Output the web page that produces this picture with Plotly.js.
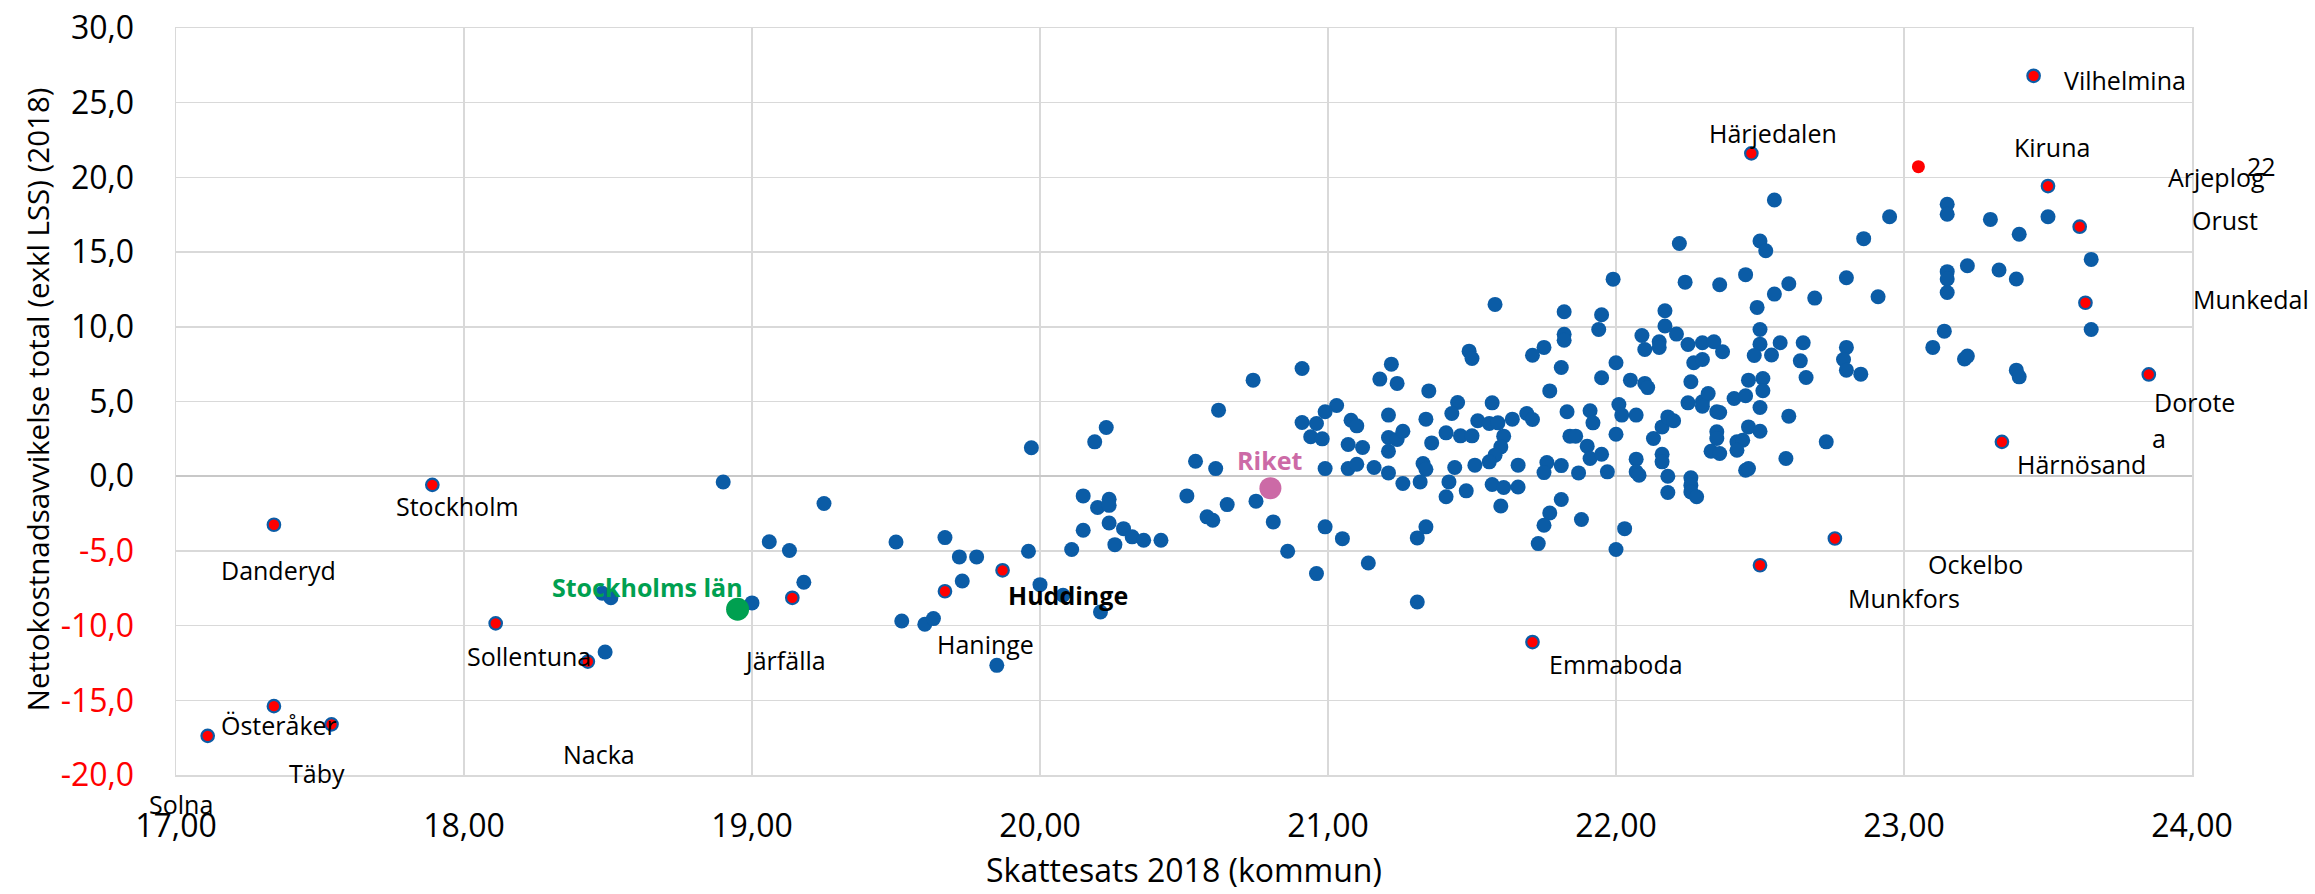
<!DOCTYPE html>
<html>
<head>
<meta charset="utf-8">
<script src="https://cdn.plot.ly/plotly-3.0.1.min.js"></script>
<style>
  html, body { margin: 0; padding: 0; background: #fff; }
  #plot { width: 2315px; height: 894px; }
</style>
</head>
<body>
<div id="plot"></div>
<script>
// Skattesats 2018 (x) vs nettokostnadsavvikelse (y) per kommun
const kommuner = [
  [18.49,-11.77],[18.48,-7.83],[18.51,-8.14],[18.90,-0.39],[19.00,-8.48],[19.06,-4.39],[19.13,-4.97],
  [19.18,-7.10],[19.25,-1.83],[19.50,-4.40],[19.52,-9.69],[19.60,-9.91],[19.63,-9.53],[19.67,-4.11],
  [19.72,-5.40],[19.73,-7.01],[19.78,-5.40],[19.85,-12.66],[19.96,-5.02],[19.97,1.90],[20.00,-7.26],
  [20.11,-4.91],[20.15,-3.62],[20.08,-7.97],[20.15,-1.32],[20.20,-2.10],[20.24,-1.55],[20.24,-1.95],
  [20.19,2.30],[20.23,3.26],[20.24,-3.13],[20.29,-3.51],[20.26,-4.58],[20.32,-4.06],[20.36,-4.29],
  [20.42,-4.29],[20.21,-9.09],[20.51,-1.32],[20.54,1.00],[20.61,0.51],[20.62,4.42],[20.58,-2.72],
  [20.60,-2.95],[20.65,-1.90],[20.86,-5.02],[20.96,-6.52],[21.05,-4.18],[21.14,-5.81],[21.31,-4.13],
  [21.31,-8.42],
  [21.58,11.50],[21.82,11.01],[21.82,9.50],[21.82,9.10],[21.75,8.62],[21.71,8.10],[21.81,7.28],
  [21.49,8.37],[21.50,7.88],[20.91,7.21],[20.74,6.43],[21.22,7.50],[21.18,6.50],[21.24,6.21],
  [21.35,5.71],[21.77,5.71],[21.03,4.73],[20.99,4.31],[20.91,3.59],[20.96,3.53],[20.94,2.64],
  [20.98,2.50],[21.08,3.75],[21.10,3.37],[21.07,2.12],[21.12,1.92],[21.21,4.09],[21.21,2.59],
  [21.24,2.46],[21.26,3.01],[21.21,1.67],[21.34,3.82],[21.36,2.23],[21.45,4.93],[21.43,4.20],
  [21.41,2.90],[21.46,2.70],[21.50,2.70],[21.57,4.91],[21.52,3.71],[21.56,3.53],[21.59,3.57],
  [21.64,3.82],[21.69,4.20],[21.71,3.80],[21.61,2.68],[21.60,1.96],[21.58,1.41],[21.56,0.96],
  [21.51,0.74],[21.83,4.31],[21.84,2.68],[20.99,0.51],[21.07,0.51],[21.10,0.80],[21.16,0.58],
  [21.21,0.22],[21.26,-0.49],[21.33,0.85],[21.34,0.47],[21.32,-0.38],[21.44,0.58],[21.42,-0.38],
  [21.41,-1.38],[21.48,-0.98],[21.66,0.74],[21.57,-0.56],[21.61,-0.76],[21.60,-1.99],[21.66,-0.72],
  [21.76,0.91],[21.75,0.24],[21.81,0.71],[21.81,-1.56],[21.77,-2.46],[21.75,-3.28],[20.75,-1.67],
  [20.81,-3.06],[20.99,-3.39],[21.34,-3.39],
  [22.55,18.49],[22.22,15.58],[22.50,15.74],[22.52,15.09],[22.86,15.90],[21.99,13.19],[22.24,12.99],
  [22.36,12.81],[22.45,13.49],[22.60,12.88],[22.55,12.19],[22.49,11.30],[22.69,11.92],[22.80,13.28],
  [22.91,12.01],[21.95,10.81],[21.94,9.82],[22.17,11.07],[22.17,10.05],[22.21,9.51],[22.09,9.42],
  [22.15,9.00],[22.10,8.48],[22.15,8.62],[22.25,8.82],[22.30,8.93],[22.34,9.00],[22.37,8.33],
  [22.27,7.59],[22.30,7.81],[22.50,9.82],[22.50,8.84],[22.48,8.08],[22.54,8.11],[22.57,8.93],
  [22.65,8.93],[22.64,7.72],[22.66,6.61],[22.80,8.62],[22.79,7.81],[22.80,7.10],[22.85,6.83],
  [22.00,7.59],[21.95,6.59],[22.05,6.43],[22.10,6.21],[22.11,5.93],[22.26,6.32],[22.25,4.91],
  [22.30,4.98],[22.32,5.53],[22.30,4.69],[22.35,4.31],[22.36,4.26],[22.41,5.20],[22.45,5.38],
  [22.46,6.43],[22.51,6.54],[22.51,5.72],[22.50,4.60],[22.60,4.02],[22.73,2.30],[22.59,1.18],
  [21.91,4.38],[21.92,3.57],[22.01,4.80],[22.02,4.09],[22.07,4.09],[22.00,2.81],[21.86,2.68],
  [21.90,2.01],[21.91,1.18],[21.95,1.47],[21.87,0.22],[21.97,0.29],[21.88,-2.90],[22.03,-3.51],
  [22.13,2.52],[22.16,3.30],[22.18,3.97],[22.20,3.71],[22.16,1.47],[22.16,0.96],[22.07,1.14],
  [22.07,0.29],[22.08,0.07],[22.18,0.00],[22.18,-1.09],[22.26,-0.11],[22.26,-0.60],[22.26,-1.05],
  [22.28,-1.38],[22.35,2.97],[22.35,2.52],[22.33,1.67],[22.36,1.52],[22.42,2.30],[22.44,2.41],
  [22.42,1.74],[22.46,3.30],[22.50,3.01],[22.45,0.40],[22.46,0.51],
  [22.95,17.37],[23.15,18.20],[23.15,17.53],[23.30,17.19],[23.40,16.19],[23.50,17.37],[23.65,14.51],
  [23.22,14.09],[23.15,13.69],[23.15,13.20],[23.33,13.80],[23.39,13.20],[23.15,12.30],[23.65,9.82],
  [23.14,9.71],[23.10,8.62],[23.21,7.84],[23.22,8.04],[23.39,7.10],[23.40,6.65],
  [21.73,-4.51],[22.00,-4.91]
];

// highlighted kommuner (red)
const markedNames = ['Solna','Österåker','Täby','Danderyd','Stockholm','Sollentuna','Nacka','Järfälla',
  'Haninge','Huddinge','Emmaboda','Munkfors','Ockelbo','Härjedalen','Vilhelmina','Kiruna','Arjeplog',
  'Munkedal','Dorotea','Härnösand'];
const markedX = [17.11,17.34,17.54,17.34,17.89,18.11,18.43,19.14,19.67,19.87,21.71,22.50,22.76,22.47,
  23.45,23.50,23.61,23.63,23.85,23.34];
const markedY = [-17.38,-15.39,-16.61,-3.25,-0.58,-9.85,-12.41,-8.14,-7.70,-6.30,-11.10,-5.96,-4.17,21.61,
  26.80,19.42,16.70,11.61,6.81,2.30];

const plainRedX = [23.05];
const plainRedY = [20.72];

const lanX = [18.95], lanY = [-8.90];     // Stockholms län
const riketX = [20.80], riketY = [-0.80]; // Riket

const yTicks = [-20, -15, -10, -5, 0, 5, 10, 15, 20, 25, 30];

const FONT = 'Open Sans, Arial, sans-serif';
const BLUE = '#0b5ca6';

const yTickText = yTicks.map(v => {
  const s = v.toFixed(1).replace('.', ',');
  return v < 0 ? '<span style="color:#ff0000">' + s + '</span>' : s;
});

const traces = [
  {
    x: kommuner.map(p => p[0]), y: kommuner.map(p => p[1]),
    type: 'scatter', mode: 'markers', name: 'Kommuner',
    marker: { color: BLUE, size: 15 }
  },
  {
    x: markedX, y: markedY, text: markedNames,
    type: 'scatter', mode: 'markers', name: 'Markerade',
    marker: { color: '#ff0000', size: 12.5, line: { color: BLUE, width: 2.2 } }
  },
  {
    x: plainRedX, y: plainRedY,
    type: 'scatter', mode: 'markers',
    marker: { color: '#ff0000', size: 13 }
  },
  {
    x: lanX, y: lanY, type: 'scatter', mode: 'markers', name: 'Stockholms län',
    marker: { color: '#00a050', size: 23 }
  },
  {
    x: riketX, y: riketY, type: 'scatter', mode: 'markers', name: 'Riket',
    marker: { color: '#cc6aa6', size: 22 }
  }
];

// label helper: position given in data units, drawn in paper units so labels outside the axes survive
function lbl(text, x, y, extra) {
  return Object.assign({
    text: text, xref: 'paper', yref: 'paper',
    x: (x - 17) / 7, y: (y + 20) / 50,
    xanchor: 'center', yanchor: 'middle', showarrow: false,
    font: { family: FONT, size: 25, color: '#000' }
  }, extra || {});
}

const annotations = [
  lbl('Vilhelmina', 23.766, 26.52),
  lbl('Härjedalen', 22.544, 22.97),
  lbl('Kiruna', 23.513, 22.04),
  lbl('Arjeplog', 24.086, 20.05),
  lbl('22', 24.241, 20.76),
  lbl('Orust', 24.113, 17.15),
  lbl('Munkedal', 24.206, 11.84),
  lbl('Dorote', 24.007, 4.94),
  lbl('a', 23.884, 2.53),
  lbl('Härnösand', 23.616, 0.85),
  lbl('Ockelbo', 23.249, -5.89),
  lbl('Munkfors', 23.0, -8.17),
  lbl('Emmaboda', 22.001, -12.59),
  lbl('<b>Riket</b>', 20.798, 1.07, { font: { family: FONT, size: 25, color: '#cc6aa6' } }),
  lbl('<b>Huddinge</b>', 20.097, -7.97),
  lbl('Haninge', 19.81, -11.25),
  lbl('Järfälla', 19.113, -12.32),
  lbl('<b>Stockholms län</b>', 18.638, -7.43, { font: { family: FONT, size: 25, color: '#00a050' } }),
  lbl('Stockholm', 17.977, -1.99),
  lbl('Danderyd', 17.357, -6.30),
  lbl('Sollentuna', 18.225, -12.03),
  lbl('Österåker', 17.357, -16.68),
  lbl('Täby', 17.489, -19.84),
  lbl('Nacka', 18.469, -18.6),
  lbl('Solna', 17.017, -21.97),
  // y-axis title, placed by hand to sit where the original has it
  {
    text: 'Nettokostnadsavvikelse total (exkl LSS) (2018)',
    xref: 'paper', yref: 'paper', x: -0.069, y: 0.503,
    xanchor: 'center', yanchor: 'middle', textangle: -90, showarrow: false,
    font: { family: FONT, size: 29.5, color: '#000' }
  }
];

const layout = {
  width: 2315, height: 894,
  margin: { l: 176, r: 123, t: 28, b: 119 },
  paper_bgcolor: '#fff', plot_bgcolor: '#fff',
  showlegend: false,
  separators: ', ',
  font: { family: FONT, color: '#000', size: 32 },
  xaxis: {
    range: [17, 24], tick0: 17, dtick: 1, tickformat: '.2f',
    showgrid: true, gridcolor: '#d9d9d9', gridwidth: 1.5,
    showline: true, linecolor: '#d9d9d9', linewidth: 1.5, mirror: true,
    zeroline: false, ticks: '', ticklabelstandoff: 22,
    tickfont: { family: FONT, size: 32, color: '#000' },
    title: { text: 'Skattesats 2018 (kommun)', font: { family: FONT, size: 32, color: '#000' }, standoff: 14 }
  },
  yaxis: {
    range: [-20, 30], tickvals: yTicks, ticktext: yTickText,
    showgrid: true, gridcolor: '#d9d9d9', gridwidth: 1.5,
    showline: true, linecolor: '#d9d9d9', linewidth: 1.5, mirror: true,
    zeroline: true, zerolinecolor: '#c8c8c8', zerolinewidth: 1.5,
    ticks: '', ticklabelstandoff: 34,
    tickfont: { family: FONT, size: 32, color: '#000' }
  },
  annotations: annotations
};

Plotly.newPlot('plot', traces, layout, { staticPlot: true });
</script>
</body>
</html>
